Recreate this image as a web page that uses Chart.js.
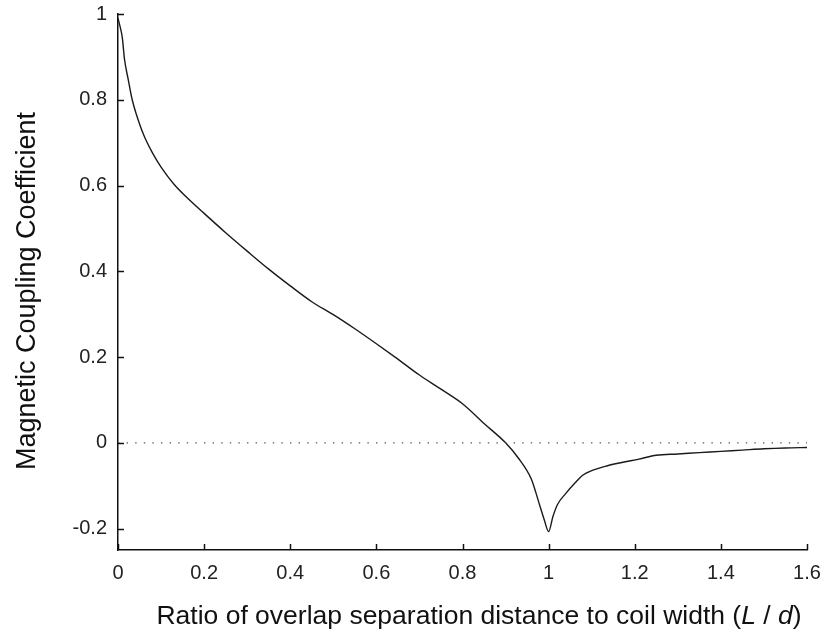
<!DOCTYPE html>
<html>
<head>
<meta charset="utf-8">
<script src="https://cdn.jsdelivr.net/npm/chart.js@4.4.1/dist/chart.umd.min.js"></script>
<style>
  html, body { margin: 0; padding: 0; background: #fff; }
  #wrap { width: 825px; height: 632px; }
</style>
</head>
<body>
<div id="wrap"><canvas id="chart" width="825" height="632"></canvas></div>
<script>
// Overlap ratio L/d and the coupling coefficient at each ratio
const overlapRatio = [
  0, 0.005, 0.01, 0.015, 0.024, 0.033, 0.042, 0.06, 0.08, 0.1,
  0.13, 0.16, 0.2, 0.25, 0.3, 0.35, 0.4, 0.45, 0.5, 0.55,
  0.6, 0.65, 0.7, 0.75, 0.8, 0.85, 0.9, 0.93, 0.96, 0.97,
  0.98, 0.99, 1.0, 1.01, 1.02, 1.04, 1.06, 1.08, 1.1, 1.135,
  1.17, 1.21, 1.25, 1.3, 1.35, 1.4, 1.45, 1.5, 1.55, 1.6
];
const couplingCoeff = [
  0.99, 0.97, 0.945, 0.895, 0.846, 0.80, 0.768, 0.717, 0.676, 0.643,
  0.603, 0.572, 0.535, 0.49, 0.447, 0.405, 0.366, 0.329, 0.299, 0.266,
  0.231, 0.195, 0.158, 0.125, 0.091, 0.045, 0.0, -0.036, -0.085, -0.115,
  -0.148, -0.18, -0.207, -0.172, -0.145, -0.118, -0.095, -0.075, -0.065, -0.054,
  -0.046, -0.038, -0.029, -0.026, -0.023, -0.020, -0.017, -0.014, -0.012, -0.011
];
const zeroLineX = [0, 1.6];
const zeroLineY = [0, 0];

const xTickValues = [0, 0.2, 0.4, 0.6, 0.8, 1, 1.2, 1.4, 1.6];
const xTickLabels = ['0', '0.2', '0.4', '0.6', '0.8', '1', '1.2', '1.4', '1.6'];
const yTickValues = [-0.2, 0, 0.2, 0.4, 0.6, 0.8, 1];
const yTickLabels = ['-0.2', '0', '0.2', '0.4', '0.6', '0.8', '1'];

const yTitle = 'Magnetic Coupling Coefficient';
// x title pieces: [text, italic]
const xTitleParts = [
  ['Ratio of overlap separation distance to coil width (', false],
  ['L', true],
  [' / ', false],
  ['d', true],
  [')', false]
];

const FONT = '"Liberation Sans", Arial, sans-serif';
const AXIS_COLOR = '#111';

// inward tick marks on both axes
const inwardTicks = {
  id: 'inwardTicks',
  afterDatasetsDraw(chart) {
    const ctx = chart.ctx;
    const xs = chart.scales.x, ys = chart.scales.y;
    const area = chart.chartArea;
    const len = 6;
    ctx.save();
    ctx.strokeStyle = AXIS_COLOR;
    ctx.lineWidth = 1.5;
    ctx.beginPath();
    xs.ticks.forEach(t => {
      const px = Math.round(xs.getPixelForValue(t.value)) + 0.5;
      ctx.moveTo(px, area.bottom);
      ctx.lineTo(px, area.bottom - len);
    });
    ys.ticks.forEach(t => {
      const py = Math.round(ys.getPixelForValue(t.value)) + 0.5;
      ctx.moveTo(area.left, py);
      ctx.lineTo(area.left + len, py);
    });
    ctx.stroke();
    ctx.restore();
  }
};

// axis titles (x title has italic symbols)
const axisTitles = {
  id: 'axisTitles',
  afterDraw(chart) {
    const ctx = chart.ctx;
    ctx.save();
    ctx.fillStyle = '#111';
    ctx.textBaseline = 'alphabetic';

    // y title, rotated
    ctx.font = '27px ' + FONT;
    ctx.translate(35, 291);
    ctx.rotate(-Math.PI / 2);
    ctx.textAlign = 'center';
    ctx.fillText(yTitle, 0, 0);
    ctx.setTransform(1, 0, 0, 1, 0, 0);

    // x title, measured piecewise
    const fontFor = it => (it ? 'italic ' : '') + '26.5px ' + FONT;
    let total = 0;
    xTitleParts.forEach(([s, it]) => { ctx.font = fontFor(it); total += ctx.measureText(s).width; });
    let x = 479 - total / 2;
    ctx.textAlign = 'left';
    xTitleParts.forEach(([s, it]) => {
      ctx.font = fontFor(it);
      ctx.fillText(s, x, 624);
      x += ctx.measureText(s).width;
    });
    ctx.restore();
  }
};

const curve = overlapRatio.map((x, i) => ({ x, y: couplingCoeff[i] }));
const zeroLine = zeroLineX.map((x, i) => ({ x, y: zeroLineY[i] }));

new Chart(document.getElementById('chart'), {
  type: 'line',
  data: {
    datasets: [
      {
        data: zeroLine,
        borderColor: '#555',
        borderWidth: 1.3,
        borderDash: [1.4, 7.2],
        pointRadius: 0,
        fill: false
      },
      {
        data: curve,
        borderColor: '#1a1a1a',
        borderWidth: 1.4,
        pointRadius: 0,
        cubicInterpolationMode: 'monotone',
        fill: false
      }
    ]
  },
  options: {
    responsive: false,
    animation: false,
    layout: { padding: { top: 14, right: 18, left: 0, bottom: 0 } },
    plugins: { legend: { display: false }, tooltip: { enabled: false } },
    scales: {
      x: {
        type: 'linear',
        min: 0,
        max: 1.6,
        afterBuildTicks: s => { s.ticks = xTickValues.map(v => ({ value: v })); },
        afterFit: s => { s.height = 82; s.paddingLeft = 0; s.paddingRight = 0; },
        grid: { display: false },
        border: { display: true, color: AXIS_COLOR, width: 1.5 },
        ticks: {
          autoSkip: false,
          maxRotation: 0,
          padding: 3,
          color: '#222',
          font: { family: FONT, size: 20 },
          callback: (v, i) => xTickLabels[i]
        }
      },
      y: {
        type: 'linear',
        min: -0.25,
        max: 1,
        afterBuildTicks: s => { s.ticks = yTickValues.map(v => ({ value: v })); },
        afterFit: s => { s.width = 118; s.paddingTop = 0; s.paddingBottom = 0; },
        grid: { display: false },
        border: { display: true, color: AXIS_COLOR, width: 1.5 },
        ticks: {
          autoSkip: false,
          padding: 3,
          color: '#222',
          font: { family: FONT, size: 20 },
          callback: (v, i) => yTickLabels[i]
        }
      }
    }
  },
  plugins: [inwardTicks, axisTitles]
});
</script>
</body>
</html>
